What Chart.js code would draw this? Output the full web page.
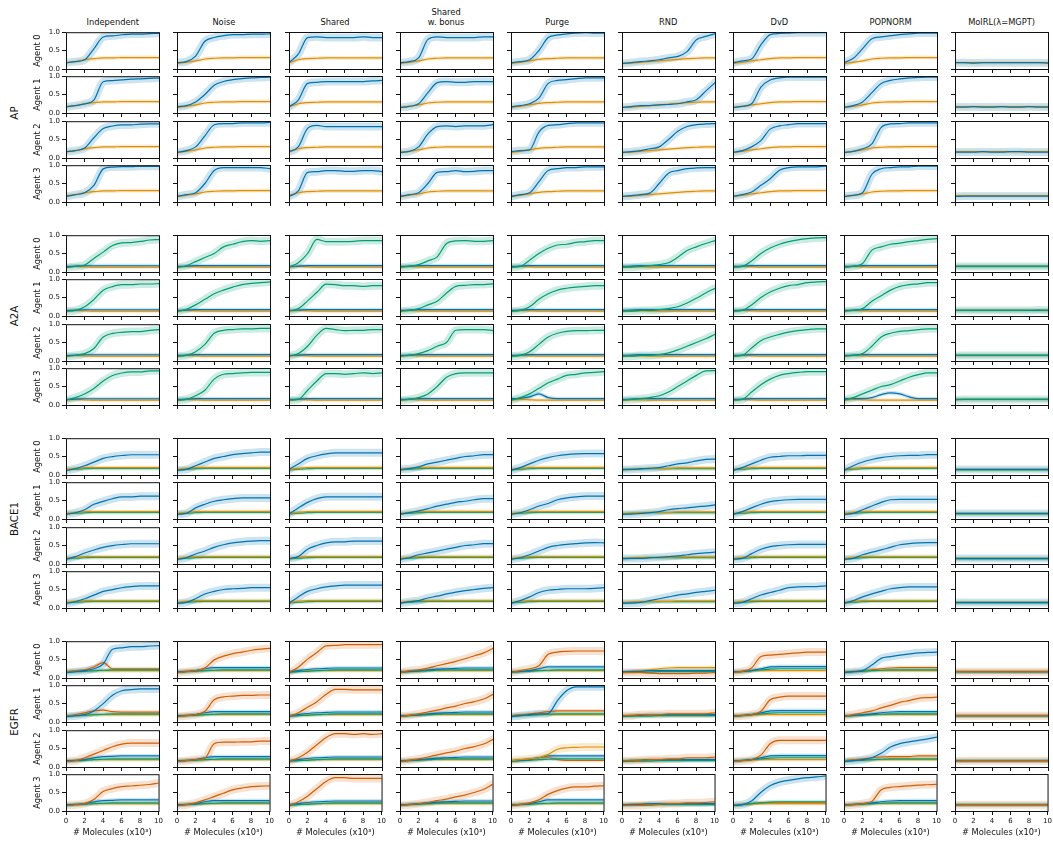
<!DOCTYPE html>
<html>
<head>
<meta charset="utf-8">
<script src="https://cdn.jsdelivr.net/npm/chart.js@4.4.1/dist/chart.umd.min.js"></script>
<style>
    body { margin: 0; background: #fff; }
    #figure { position: relative; width: 1053px; height: 843px; font-family: 'DejaVu Sans', sans-serif; color: #111; }
    #figure canvas { position: absolute; }
    .col-title { position: absolute; font-size: 8.3px; line-height: 10px; text-align: center; transform: translate(-50%, -50%); white-space: nowrap; }
    .group-label { position: absolute; font-size: 10.3px; transform: translate(-50%, -50%) rotate(-90deg); white-space: nowrap; }
</style>
</head>
<body>
<div id="figure"></div>
<script>
// Multi-agent learning curves, one small panel per (target, agent, method)

const METHODS = ['Independent', 'Noise', 'Shared', 'Shared\nw. bonus', 'Purge', 'RND', 'DvD', 'POPNORM', 'MolRL(λ=MGPT)'];
const TARGETS = ['AP', 'A2A', 'BACE1', 'EGFR'];
const AGENTS = ['Agent 0', 'Agent 1', 'Agent 2', 'Agent 3'];
const STEPS = [0, 1, 2, 3, 4, 5, 6, 7, 8, 9, 10]; // # molecules (x10^3)
const X_TICKS = [0, 2, 4, 6, 8, 10];
const Y_TICKS = [0, 0.5, 1.0];
const X_TITLE = '# Molecules (x10³)';

// ---- AP: blue rises, orange flat ----
const AP_MAIN = [
    [[0.17,0.2,0.25,0.55,0.87,0.9,0.93,0.95,0.95,0.96,0.97], [0.17,0.2,0.25,0.35,0.85,0.88,0.9,0.92,0.93,0.94,0.95], [0.17,0.2,0.27,0.55,0.8,0.87,0.9,0.9,0.92,0.93,0.93], [0.15,0.2,0.25,0.45,0.9,0.95,0.96,0.96,0.97,0.97,0.97]],
    [[0.17,0.2,0.35,0.75,0.85,0.9,0.93,0.93,0.94,0.94,0.95], [0.17,0.2,0.3,0.5,0.75,0.85,0.9,0.93,0.95,0.96,0.97], [0.15,0.2,0.3,0.6,0.9,0.93,0.93,0.95,0.95,0.95,0.96], [0.15,0.2,0.25,0.5,0.85,0.93,0.93,0.93,0.93,0.93,0.9]],
    [[0.18,0.4,0.85,0.87,0.85,0.85,0.85,0.85,0.87,0.85,0.85], [0.17,0.35,0.8,0.83,0.85,0.85,0.85,0.85,0.85,0.87,0.88], [0.17,0.3,0.8,0.88,0.85,0.85,0.85,0.85,0.85,0.85,0.85], [0.15,0.3,0.8,0.82,0.85,0.85,0.83,0.83,0.85,0.85,0.82]],
    [[0.17,0.2,0.3,0.8,0.87,0.85,0.85,0.85,0.85,0.87,0.87], [0.15,0.18,0.25,0.55,0.82,0.85,0.83,0.83,0.85,0.85,0.85], [0.15,0.18,0.3,0.65,0.85,0.87,0.85,0.87,0.87,0.87,0.9], [0.15,0.2,0.25,0.5,0.8,0.82,0.85,0.82,0.83,0.85,0.85]],
    [[0.17,0.2,0.25,0.5,0.85,0.92,0.95,0.97,0.98,0.97,0.97], [0.17,0.2,0.25,0.4,0.8,0.88,0.9,0.93,0.95,0.95,0.95], [0.17,0.2,0.22,0.7,0.88,0.9,0.93,0.95,0.95,0.95,0.95], [0.15,0.2,0.25,0.55,0.85,0.9,0.93,0.93,0.95,0.95,0.95]],
    [[0.15,0.17,0.2,0.22,0.25,0.3,0.34,0.47,0.79,0.88,0.95], [0.15,0.17,0.2,0.2,0.22,0.23,0.25,0.3,0.36,0.59,0.82], [0.15,0.17,0.2,0.25,0.3,0.5,0.72,0.85,0.9,0.92,0.93], [0.15,0.17,0.2,0.24,0.5,0.78,0.85,0.9,0.92,0.93,0.93]],
    [[0.17,0.22,0.27,0.65,0.93,0.96,0.97,0.98,0.98,0.98,0.98], [0.15,0.18,0.25,0.7,0.89,0.95,0.97,0.97,0.97,0.97,0.97], [0.15,0.2,0.3,0.47,0.78,0.87,0.9,0.93,0.93,0.93,0.93], [0.15,0.2,0.27,0.45,0.63,0.86,0.93,0.95,0.95,0.95,0.97]],
    [[0.17,0.29,0.55,0.82,0.87,0.9,0.93,0.95,0.97,0.97,0.97], [0.15,0.2,0.3,0.55,0.8,0.88,0.92,0.95,0.96,0.97,0.97], [0.15,0.18,0.25,0.38,0.83,0.92,0.93,0.95,0.95,0.95,0.95], [0.15,0.18,0.25,0.75,0.9,0.93,0.95,0.95,0.97,0.97,0.97]],
    [[0.17,0.17,0.16,0.17,0.17,0.17,0.17,0.17,0.17,0.17,0.16], [0.16,0.16,0.17,0.16,0.16,0.17,0.16,0.16,0.17,0.16,0.16], [0.16,0.16,0.16,0.17,0.16,0.16,0.17,0.17,0.16,0.16,0.16], [0.15,0.16,0.16,0.16,0.16,0.16,0.16,0.16,0.16,0.16,0.16]]
];
const AP_ORANGE = [
    [0.17,0.2,0.25,0.28,0.3,0.3,0.31,0.31,0.31,0.31,0.31],
    [0.15,0.18,0.22,0.27,0.29,0.3,0.3,0.31,0.31,0.31,0.31],
    [0.17,0.25,0.28,0.29,0.3,0.3,0.3,0.3,0.3,0.3,0.3],
    [0.15,0.18,0.22,0.27,0.29,0.3,0.3,0.3,0.3,0.3,0.3],
    [0.15,0.18,0.22,0.26,0.28,0.29,0.3,0.3,0.3,0.3,0.3],
    [0.15,0.16,0.18,0.2,0.22,0.24,0.26,0.28,0.29,0.3,0.3],
    [0.15,0.18,0.22,0.25,0.28,0.3,0.3,0.31,0.31,0.31,0.31],
    [0.15,0.18,0.22,0.27,0.29,0.3,0.3,0.31,0.31,0.31,0.31],
    [0.17,0.17,0.17,0.17,0.17,0.17,0.17,0.17,0.17,0.17,0.17]
];

// ---- A2A: green rises, blue and orange flat ----
const A2A_MAIN = [
    [[0.12,0.15,0.19,0.37,0.54,0.72,0.79,0.8,0.83,0.87,0.88], [0.13,0.15,0.25,0.45,0.7,0.8,0.85,0.85,0.87,0.87,0.88], [0.13,0.15,0.2,0.34,0.65,0.75,0.78,0.8,0.8,0.83,0.85], [0.13,0.2,0.3,0.45,0.65,0.8,0.87,0.9,0.9,0.93,0.93]],
    [[0.12,0.17,0.28,0.39,0.5,0.68,0.75,0.82,0.85,0.83,0.85], [0.12,0.18,0.3,0.45,0.6,0.7,0.78,0.85,0.88,0.9,0.92], [0.13,0.15,0.25,0.45,0.75,0.83,0.85,0.87,0.87,0.88,0.88], [0.13,0.15,0.25,0.4,0.7,0.83,0.85,0.87,0.88,0.88,0.88]],
    [[0.13,0.25,0.5,0.88,0.82,0.82,0.82,0.83,0.85,0.85,0.85], [0.13,0.2,0.41,0.64,0.86,0.85,0.82,0.82,0.8,0.82,0.82], [0.13,0.2,0.4,0.7,0.88,0.85,0.82,0.83,0.83,0.85,0.85], [0.13,0.15,0.4,0.65,0.85,0.85,0.83,0.85,0.87,0.85,0.87]],
    [[0.13,0.15,0.2,0.3,0.41,0.77,0.84,0.85,0.83,0.83,0.85], [0.13,0.15,0.2,0.3,0.4,0.62,0.8,0.83,0.85,0.85,0.87], [0.13,0.15,0.2,0.28,0.4,0.5,0.83,0.85,0.85,0.85,0.82], [0.13,0.15,0.2,0.3,0.5,0.75,0.85,0.87,0.87,0.87,0.87]],
    [[0.13,0.15,0.32,0.5,0.64,0.73,0.75,0.8,0.82,0.85,0.85], [0.13,0.15,0.25,0.45,0.6,0.7,0.75,0.78,0.8,0.82,0.82], [0.13,0.15,0.25,0.45,0.65,0.75,0.8,0.82,0.82,0.83,0.83], [0.13,0.2,0.3,0.45,0.6,0.7,0.8,0.83,0.87,0.88,0.9]],
    [[0.13,0.13,0.15,0.17,0.2,0.25,0.4,0.58,0.68,0.77,0.85], [0.13,0.13,0.15,0.15,0.17,0.2,0.25,0.35,0.48,0.62,0.75], [0.13,0.13,0.15,0.15,0.17,0.22,0.3,0.4,0.5,0.6,0.72], [0.13,0.15,0.17,0.2,0.25,0.35,0.5,0.65,0.8,0.92,0.93]],
    [[0.13,0.15,0.3,0.5,0.65,0.75,0.82,0.87,0.9,0.92,0.93], [0.13,0.15,0.3,0.5,0.65,0.75,0.82,0.85,0.9,0.92,0.93], [0.13,0.15,0.35,0.55,0.65,0.72,0.78,0.82,0.85,0.87,0.87], [0.13,0.15,0.35,0.55,0.7,0.8,0.85,0.88,0.9,0.9,0.9]],
    [[0.13,0.15,0.23,0.59,0.68,0.75,0.78,0.82,0.85,0.88,0.9], [0.13,0.15,0.2,0.4,0.55,0.7,0.8,0.85,0.87,0.9,0.9], [0.13,0.15,0.2,0.4,0.65,0.75,0.8,0.82,0.85,0.87,0.87], [0.13,0.2,0.3,0.4,0.5,0.55,0.65,0.75,0.82,0.87,0.87]],
    [[0.15,0.15,0.15,0.15,0.15,0.15,0.15,0.15,0.15,0.15,0.15], [0.15,0.15,0.15,0.15,0.15,0.15,0.15,0.15,0.15,0.16,0.15], [0.15,0.15,0.15,0.15,0.15,0.15,0.15,0.15,0.15,0.15,0.15], [0.14,0.15,0.15,0.15,0.15,0.15,0.15,0.15,0.15,0.15,0.15]]
];
const A2A_BLUE = [
    [0.15,0.16,0.17,0.17,0.17,0.17,0.17,0.17,0.17,0.17,0.17],
    [0.15,0.16,0.17,0.17,0.17,0.17,0.17,0.17,0.17,0.17,0.17],
    [0.15,0.16,0.17,0.17,0.17,0.17,0.17,0.17,0.17,0.17,0.17],
    [0.15,0.16,0.17,0.17,0.17,0.17,0.17,0.17,0.17,0.17,0.17],
    [0.15,0.16,0.17,0.17,0.17,0.17,0.17,0.17,0.17,0.17,0.17],
    [0.15,0.16,0.17,0.17,0.17,0.17,0.17,0.17,0.17,0.17,0.17],
    [0.15,0.16,0.17,0.17,0.17,0.17,0.17,0.17,0.17,0.17,0.17],
    [0.15,0.16,0.17,0.17,0.17,0.17,0.17,0.17,0.17,0.17,0.17],
    [0.15,0.15,0.15,0.15,0.15,0.15,0.15,0.15,0.15,0.15,0.15]
];
const A2A_ORANGE = [
    [0.13,0.15,0.14,0.13,0.13,0.13,0.13,0.13,0.13,0.13,0.13],
    [0.13,0.15,0.14,0.13,0.13,0.13,0.13,0.13,0.13,0.13,0.13],
    [0.13,0.15,0.14,0.13,0.13,0.13,0.13,0.13,0.13,0.13,0.13],
    [0.13,0.15,0.14,0.13,0.13,0.13,0.13,0.13,0.13,0.13,0.13],
    [0.13,0.15,0.14,0.13,0.13,0.13,0.13,0.13,0.13,0.13,0.13],
    [0.13,0.14,0.14,0.13,0.13,0.13,0.13,0.13,0.13,0.13,0.13],
    [0.13,0.15,0.14,0.13,0.13,0.13,0.13,0.13,0.13,0.13,0.13],
    [0.13,0.15,0.14,0.13,0.13,0.13,0.13,0.13,0.13,0.13,0.13],
    [0.15,0.15,0.15,0.15,0.15,0.15,0.15,0.15,0.15,0.15,0.15]
];

// ---- BACE1: blue rises, orange and green flat ----
const BACE1_MAIN = [
    [[0.12,0.17,0.25,0.35,0.45,0.5,0.53,0.55,0.55,0.55,0.55], [0.13,0.17,0.25,0.4,0.48,0.55,0.6,0.6,0.62,0.62,0.62], [0.13,0.2,0.3,0.38,0.45,0.5,0.53,0.55,0.55,0.55,0.55], [0.13,0.17,0.25,0.35,0.45,0.5,0.55,0.58,0.6,0.6,0.6]],
    [[0.13,0.15,0.25,0.35,0.45,0.5,0.55,0.58,0.6,0.62,0.62], [0.13,0.15,0.3,0.4,0.48,0.52,0.55,0.57,0.57,0.57,0.57], [0.12,0.17,0.27,0.35,0.45,0.52,0.57,0.6,0.62,0.63,0.63], [0.13,0.15,0.25,0.38,0.45,0.5,0.52,0.53,0.55,0.55,0.55]],
    [[0.15,0.3,0.45,0.52,0.57,0.6,0.6,0.6,0.6,0.6,0.6], [0.13,0.3,0.45,0.55,0.6,0.6,0.6,0.6,0.6,0.6,0.6], [0.15,0.2,0.4,0.5,0.57,0.6,0.6,0.62,0.62,0.62,0.62], [0.13,0.3,0.45,0.52,0.57,0.6,0.62,0.62,0.62,0.62,0.62]],
    [[0.15,0.17,0.22,0.3,0.35,0.4,0.45,0.5,0.52,0.55,0.55], [0.13,0.17,0.22,0.28,0.35,0.4,0.45,0.48,0.52,0.55,0.55], [0.13,0.17,0.25,0.3,0.35,0.4,0.45,0.5,0.52,0.55,0.55], [0.13,0.17,0.2,0.27,0.32,0.38,0.43,0.47,0.5,0.53,0.55]],
    [[0.13,0.2,0.3,0.4,0.47,0.52,0.55,0.57,0.58,0.58,0.58], [0.13,0.17,0.25,0.35,0.42,0.52,0.57,0.6,0.62,0.62,0.62], [0.13,0.17,0.25,0.35,0.45,0.5,0.53,0.55,0.57,0.58,0.57], [0.13,0.2,0.3,0.42,0.48,0.5,0.52,0.52,0.52,0.53,0.55]],
    [[0.15,0.15,0.17,0.18,0.2,0.25,0.3,0.33,0.38,0.42,0.43], [0.13,0.13,0.15,0.17,0.2,0.25,0.28,0.3,0.33,0.35,0.38], [0.15,0.15,0.15,0.17,0.18,0.2,0.22,0.25,0.28,0.3,0.32], [0.13,0.13,0.15,0.2,0.25,0.3,0.35,0.38,0.42,0.45,0.48]],
    [[0.13,0.2,0.3,0.4,0.48,0.5,0.52,0.52,0.53,0.53,0.53], [0.13,0.2,0.3,0.4,0.47,0.5,0.52,0.53,0.53,0.53,0.53], [0.13,0.15,0.28,0.4,0.47,0.5,0.52,0.53,0.53,0.53,0.53], [0.13,0.15,0.25,0.35,0.42,0.48,0.55,0.57,0.58,0.58,0.6]],
    [[0.13,0.25,0.35,0.42,0.47,0.5,0.52,0.53,0.53,0.55,0.55], [0.13,0.15,0.25,0.35,0.45,0.52,0.53,0.53,0.53,0.53,0.53], [0.13,0.15,0.25,0.32,0.38,0.45,0.52,0.55,0.57,0.58,0.58], [0.13,0.2,0.3,0.38,0.45,0.52,0.55,0.57,0.57,0.57,0.57]],
    [[0.15,0.15,0.15,0.15,0.15,0.15,0.15,0.15,0.15,0.15,0.15], [0.15,0.15,0.15,0.15,0.15,0.15,0.15,0.15,0.15,0.15,0.15], [0.15,0.15,0.15,0.15,0.15,0.15,0.15,0.15,0.15,0.15,0.15], [0.15,0.15,0.15,0.15,0.15,0.15,0.15,0.15,0.15,0.15,0.15]]
];
const BACE1_ORANGE = [
    [0.15,0.18,0.2,0.2,0.2,0.2,0.2,0.2,0.2,0.2,0.2],
    [0.15,0.18,0.2,0.2,0.2,0.2,0.2,0.2,0.2,0.2,0.2],
    [0.15,0.18,0.2,0.2,0.2,0.2,0.2,0.2,0.2,0.2,0.2],
    [0.15,0.18,0.2,0.2,0.2,0.2,0.2,0.2,0.2,0.2,0.2],
    [0.15,0.18,0.2,0.2,0.2,0.2,0.2,0.2,0.2,0.2,0.2],
    [0.15,0.16,0.17,0.18,0.18,0.18,0.19,0.19,0.19,0.19,0.19],
    [0.15,0.18,0.2,0.2,0.2,0.2,0.2,0.2,0.2,0.2,0.2],
    [0.15,0.18,0.2,0.2,0.2,0.2,0.2,0.2,0.2,0.2,0.2],
    [0.15,0.15,0.15,0.15,0.15,0.15,0.15,0.15,0.15,0.15,0.15]
];
const BACE1_GREEN = [
    [0.14,0.16,0.17,0.18,0.18,0.18,0.18,0.18,0.18,0.18,0.18],
    [0.14,0.16,0.17,0.18,0.18,0.18,0.18,0.18,0.18,0.18,0.18],
    [0.14,0.16,0.17,0.18,0.18,0.18,0.18,0.18,0.18,0.18,0.18],
    [0.14,0.16,0.17,0.18,0.18,0.18,0.18,0.18,0.18,0.18,0.18],
    [0.14,0.16,0.17,0.18,0.18,0.18,0.18,0.18,0.18,0.18,0.18],
    [0.14,0.15,0.16,0.17,0.17,0.17,0.17,0.17,0.17,0.17,0.17],
    [0.14,0.16,0.17,0.18,0.18,0.18,0.18,0.18,0.18,0.18,0.18],
    [0.14,0.16,0.17,0.18,0.18,0.18,0.18,0.18,0.18,0.18,0.18],
    [0.14,0.14,0.14,0.14,0.14,0.14,0.14,0.14,0.14,0.14,0.14]
];

// ---- EGFR: red rises (some panels swap to blue/orange), rest flat ----
const EGFR_MAIN = [
    [[0.15,0.17,0.2,0.25,0.38,0.78,0.82,0.85,0.85,0.87,0.88], [0.15,0.17,0.2,0.3,0.5,0.73,0.85,0.88,0.9,0.9,0.9], [0.15,0.17,0.25,0.35,0.45,0.55,0.62,0.65,0.65,0.65,0.65], [0.15,0.17,0.2,0.31,0.53,0.61,0.66,0.68,0.7,0.72,0.76]],
    [[0.15,0.17,0.2,0.27,0.49,0.59,0.66,0.7,0.75,0.78,0.8], [0.15,0.17,0.2,0.29,0.6,0.68,0.7,0.72,0.72,0.73,0.73], [0.15,0.17,0.2,0.24,0.63,0.67,0.67,0.68,0.68,0.7,0.7], [0.15,0.17,0.22,0.3,0.39,0.48,0.57,0.62,0.66,0.67,0.68]],
    [[0.15,0.29,0.51,0.69,0.87,0.88,0.9,0.9,0.9,0.9,0.9], [0.15,0.25,0.4,0.55,0.75,0.88,0.88,0.87,0.87,0.87,0.87], [0.15,0.25,0.4,0.6,0.8,0.9,0.9,0.88,0.9,0.88,0.9], [0.15,0.25,0.4,0.6,0.8,0.9,0.9,0.88,0.88,0.88,0.88]],
    [[0.15,0.2,0.22,0.27,0.33,0.39,0.45,0.52,0.6,0.68,0.8], [0.15,0.18,0.22,0.27,0.32,0.38,0.43,0.5,0.55,0.62,0.75], [0.15,0.18,0.22,0.27,0.33,0.38,0.43,0.5,0.55,0.62,0.75], [0.15,0.17,0.2,0.23,0.28,0.32,0.38,0.43,0.5,0.58,0.72]],
    [[0.15,0.2,0.25,0.33,0.64,0.7,0.72,0.73,0.73,0.73,0.73], [0.15,0.17,0.2,0.22,0.23,0.58,0.85,0.95,0.95,0.95,0.95], [0.17,0.2,0.22,0.25,0.34,0.48,0.52,0.53,0.54,0.54,0.54], [0.15,0.18,0.22,0.3,0.45,0.55,0.62,0.65,0.65,0.67,0.68]],
    [[0.15,0.15,0.15,0.13,0.12,0.12,0.12,0.12,0.13,0.13,0.15], [0.17,0.17,0.2,0.2,0.2,0.22,0.22,0.22,0.22,0.22,0.25], [0.17,0.17,0.18,0.2,0.2,0.22,0.22,0.25,0.25,0.25,0.27], [0.15,0.15,0.15,0.17,0.18,0.2,0.2,0.22,0.22,0.23,0.25]],
    [[0.15,0.18,0.27,0.58,0.62,0.64,0.66,0.68,0.7,0.7,0.7], [0.15,0.17,0.2,0.29,0.6,0.67,0.7,0.7,0.7,0.7,0.7], [0.15,0.17,0.2,0.32,0.63,0.72,0.72,0.72,0.72,0.72,0.72], [0.15,0.17,0.27,0.5,0.68,0.78,0.83,0.87,0.9,0.92,0.95]],
    [[0.15,0.17,0.2,0.35,0.53,0.58,0.62,0.65,0.68,0.69,0.7], [0.15,0.2,0.25,0.3,0.38,0.45,0.53,0.58,0.64,0.66,0.67], [0.15,0.17,0.2,0.25,0.37,0.54,0.63,0.68,0.72,0.76,0.81], [0.15,0.17,0.2,0.26,0.57,0.64,0.66,0.68,0.7,0.71,0.72]],
    [[0.17,0.17,0.17,0.17,0.17,0.17,0.17,0.17,0.17,0.17,0.17], [0.17,0.17,0.17,0.17,0.17,0.17,0.17,0.17,0.17,0.17,0.17], [0.16,0.17,0.17,0.17,0.17,0.17,0.17,0.17,0.17,0.17,0.17], [0.16,0.17,0.17,0.17,0.17,0.17,0.17,0.17,0.17,0.17,0.17]]
];
const EGFR_BLUE = [
    [0.17,0.18,0.2,0.25,0.28,0.29,0.3,0.3,0.3,0.3,0.3],
    [0.17,0.18,0.2,0.25,0.28,0.28,0.28,0.28,0.28,0.28,0.28],
    [0.17,0.2,0.23,0.25,0.26,0.27,0.27,0.27,0.27,0.27,0.27],
    [0.17,0.18,0.2,0.22,0.24,0.25,0.26,0.27,0.27,0.27,0.27],
    [0.17,0.18,0.2,0.25,0.3,0.3,0.3,0.3,0.3,0.3,0.3],
    [0.17,0.18,0.18,0.2,0.2,0.2,0.2,0.2,0.2,0.2,0.2],
    [0.17,0.18,0.2,0.25,0.3,0.31,0.31,0.31,0.31,0.31,0.31],
    [0.17,0.18,0.2,0.22,0.25,0.27,0.28,0.28,0.28,0.28,0.28],
    [0.17,0.17,0.17,0.17,0.17,0.17,0.17,0.17,0.17,0.17,0.17]
];
const EGFR_GREEN = [
    [0.15,0.17,0.18,0.2,0.21,0.22,0.22,0.22,0.22,0.22,0.22],
    [0.15,0.17,0.18,0.2,0.21,0.22,0.22,0.22,0.22,0.22,0.22],
    [0.15,0.17,0.18,0.2,0.21,0.22,0.22,0.22,0.22,0.22,0.22],
    [0.15,0.17,0.18,0.2,0.21,0.22,0.22,0.22,0.22,0.22,0.22],
    [0.15,0.17,0.18,0.2,0.21,0.22,0.22,0.22,0.22,0.22,0.22],
    [0.15,0.15,0.16,0.16,0.17,0.17,0.17,0.17,0.17,0.17,0.17],
    [0.15,0.17,0.2,0.22,0.24,0.25,0.25,0.25,0.25,0.25,0.25],
    [0.15,0.17,0.18,0.2,0.21,0.22,0.22,0.22,0.22,0.22,0.22],
    [0.17,0.17,0.17,0.17,0.17,0.17,0.17,0.17,0.17,0.17,0.17]
];
const EGFR_ORANGE = [
    [0.17,0.18,0.19,0.2,0.2,0.2,0.2,0.2,0.2,0.2,0.2],
    [0.17,0.18,0.19,0.2,0.2,0.2,0.2,0.2,0.2,0.2,0.2],
    [0.17,0.18,0.19,0.2,0.2,0.2,0.2,0.2,0.2,0.2,0.2],
    [0.17,0.18,0.19,0.2,0.2,0.2,0.2,0.2,0.2,0.2,0.2],
    [0.17,0.18,0.19,0.2,0.2,0.2,0.2,0.2,0.2,0.2,0.2],
    [0.17,0.18,0.2,0.2,0.2,0.2,0.2,0.2,0.2,0.2,0.2],
    [0.17,0.18,0.19,0.2,0.2,0.2,0.2,0.2,0.2,0.2,0.2],
    [0.17,0.18,0.19,0.2,0.2,0.2,0.2,0.2,0.2,0.2,0.2],
    [0.17,0.17,0.17,0.17,0.17,0.17,0.17,0.17,0.17,0.17,0.17]
];

// panels where the rising curve is not the usual colour: [target, method, agent, colour]
const MAIN_SWAPS = [
    ['EGFR', 0, 0, 'blue'], ['EGFR', 0, 1, 'blue'],
    ['EGFR', 4, 1, 'blue'], ['EGFR', 4, 2, 'orange'],
    ['EGFR', 6, 3, 'blue'],
    ['EGFR', 7, 0, 'blue'], ['EGFR', 7, 2, 'blue']
];
// secondary curves that are not flat: [target, method, agent, colour, values]
const SIDE_CURVES = [
    ['A2A', 4, 3, 'blue', [0.17,0.18,0.22,0.3,0.2,0.17,0.17,0.17,0.17,0.17,0.17]],
    ['A2A', 7, 3, 'blue', [0.17,0.17,0.17,0.2,0.28,0.33,0.3,0.22,0.17,0.17,0.17]],
    ['EGFR', 0, 0, 'red', [0.17,0.2,0.22,0.3,0.42,0.25,0.25,0.25,0.25,0.25,0.25]],
    ['EGFR', 0, 1, 'red', [0.15,0.2,0.25,0.3,0.32,0.28,0.27,0.27,0.27,0.27,0.27]],
    ['EGFR', 4, 1, 'red', [0.17,0.2,0.22,0.25,0.28,0.3,0.3,0.3,0.3,0.3,0.3]],
    ['EGFR', 4, 2, 'red', [0.17,0.2,0.22,0.25,0.25,0.2,0.18,0.18,0.18,0.18,0.18]],
    ['EGFR', 5, 0, 'orange', [0.15,0.17,0.2,0.22,0.25,0.27,0.28,0.28,0.28,0.28,0.28]],
    ['EGFR', 6, 3, 'red', [0.15,0.17,0.2,0.22,0.22,0.22,0.22,0.22,0.22,0.22,0.22]],
    ['EGFR', 7, 0, 'red', [0.15,0.17,0.2,0.22,0.25,0.27,0.28,0.28,0.28,0.28,0.28]],
    ['EGFR', 7, 2, 'red', [0.17,0.2,0.22,0.25,0.27,0.28,0.28,0.28,0.3,0.3,0.3]]
];

const MAIN = { AP: AP_MAIN, A2A: A2A_MAIN, BACE1: BACE1_MAIN, EGFR: EGFR_MAIN };
const MAIN_COLOR = { AP: 'blue', A2A: 'green', BACE1: 'blue', EGFR: 'red' };
const FLATS = {
    AP: { orange: AP_ORANGE },
    A2A: { blue: A2A_BLUE, orange: A2A_ORANGE },
    BACE1: { orange: BACE1_ORANGE, green: BACE1_GREEN },
    EGFR: { blue: EGFR_BLUE, green: EGFR_GREEN, orange: EGFR_ORANGE }
};

const COLORS = { blue: '#0173b2', orange: '#de8f05', green: '#029e73', red: '#d55e00' };
const BAND = { blue: 'rgba(1,115,178,0.2)', orange: 'rgba(222,143,5,0.18)', green: 'rgba(2,158,115,0.2)', red: 'rgba(213,94,0,0.18)' };

// layout of the grid (pixels)
const PANEL_W = 93, PANEL_H = 37;
const COL_X0 = 66.3, COL_STEP = 111.1;
const ROW_Y0 = 31.7, ROW_STEP = 44.4, GROUP_STEP = 203;
const YW = 44, TOPP = 6, RP = 6, XH = 30;
const FONT = 'DejaVu Sans';
const INK = '#111';

// Draw the closed box around each panel (matplotlib spines)
const framePlugin = {
    id: 'frame',
    afterDraw(chart) {
        const { ctx, chartArea: { left, top, right, bottom } } = chart;
        ctx.save();
        ctx.strokeStyle = INK;
        ctx.lineWidth = 1;
        ctx.strokeRect(left + 0.5, top + 0.5, right - left, bottom - top);
        ctx.restore();
    }
};

function toPoints(values) {
    return STEPS.map((x, i) => ({ x: x, y: values[i] }));
}

function panelSeries(target, m, a) {
    const series = {};
    const flats = FLATS[target];
    for (const color of Object.keys(flats)) {
        series[color] = flats[color][m];
    }
    let mainColor = MAIN_COLOR[target];
    MAIN_SWAPS.forEach(s => {
        if (s[0] === target && s[1] === m && s[2] === a) mainColor = s[3];
    });
    SIDE_CURVES.forEach(s => {
        if (s[0] === target && s[1] === m && s[2] === a) series[s[3]] = s[4];
    });
    series[mainColor] = MAIN[target][m][a];
    return { series, mainColor };
}

function buildDatasets(target, m, a) {
    const { series, mainColor } = panelSeries(target, m, a);
    const datasets = [];
    for (const [color, values] of Object.entries(series)) {
        const isMain = color === mainColor;
        // shaded spread drawn as a wide pale stroke under the mean curve
        datasets.push({
            data: toPoints(values),
            borderColor: BAND[color],
            borderWidth: isMain ? 8 : 4,
            order: 3
        });
        datasets.push({
            data: toPoints(values),
            borderColor: COLORS[color],
            borderWidth: 1.2,
            order: isMain ? 0 : 1
        });
    }
    return datasets;
}

function makePanel(fig, g, a, m) {
    const pl = Math.round(COL_X0 + COL_STEP * m);
    const pt = Math.round(ROW_Y0 + ROW_STEP * a + GROUP_STEP * g);
    const isBottom = g === TARGETS.length - 1 && a === AGENTS.length - 1;
    const isLeft = m === 0;

    const canvas = document.createElement('canvas');
    canvas.width = YW + PANEL_W + RP;
    canvas.height = TOPP + PANEL_H + XH;
    canvas.style.left = (pl - YW) + 'px';
    canvas.style.top = (pt - TOPP) + 'px';
    fig.appendChild(canvas);

    const tickGrid = {
        drawOnChartArea: false,
        drawTicks: true,
        tickLength: 4,
        tickWidth: 1,
        tickColor: INK
    };

    new Chart(canvas.getContext('2d'), {
        type: 'line',
        data: { datasets: buildDatasets(TARGETS[g], m, a) },
        options: {
            responsive: false,
            animation: false,
            events: [],
            layout: { padding: { left: 0, top: TOPP, right: RP, bottom: 0 } },
            plugins: { legend: { display: false }, tooltip: { enabled: false } },
            elements: {
                point: { radius: 0 },
                line: { cubicInterpolationMode: 'monotone', borderJoinStyle: 'round', borderCapStyle: 'round' }
            },
            scales: {
                x: {
                    type: 'linear',
                    min: 0,
                    max: 10,
                    afterBuildTicks: s => { s.ticks = X_TICKS.map(v => ({ value: v })); },
                    afterFit: s => { s.height = XH; },
                    grid: tickGrid,
                    border: { display: false },
                    ticks: {
                        display: isBottom,
                        autoSkip: false,
                        maxRotation: 0,
                        padding: 2,
                        color: INK,
                        font: { family: FONT, size: 7 }
                    },
                    title: {
                        display: isBottom,
                        text: X_TITLE,
                        color: INK,
                        font: { family: FONT, size: 8.3 },
                        padding: { top: 0, bottom: 3 }
                    }
                },
                y: {
                    type: 'linear',
                    min: 0,
                    max: 1,
                    afterBuildTicks: s => { s.ticks = Y_TICKS.map(v => ({ value: v })); },
                    afterFit: s => { s.width = YW; },
                    grid: tickGrid,
                    border: { display: false },
                    ticks: {
                        display: isLeft,
                        autoSkip: false,
                        padding: 2,
                        color: INK,
                        font: { family: FONT, size: 7 },
                        callback: v => v.toFixed(1)
                    },
                    title: {
                        display: isLeft,
                        text: AGENTS[a],
                        color: INK,
                        font: { family: FONT, size: 8.3 },
                        padding: { top: 11, bottom: 0 }
                    }
                }
            }
        },
        plugins: [framePlugin]
    });
}

function addLabels(fig) {
    METHODS.forEach((name, m) => {
        const el = document.createElement('div');
        el.className = 'col-title';
        const lines = name.split('\n');
        el.innerHTML = lines.join('<br>');
        el.style.left = (COL_X0 + COL_STEP * m + PANEL_W / 2) + 'px';
        el.style.top = (lines.length > 1 ? 17 : 22) + 'px';
        fig.appendChild(el);
    });
    TARGETS.forEach((name, g) => {
        const el = document.createElement('div');
        el.className = 'group-label';
        el.textContent = name;
        const top = ROW_Y0 + GROUP_STEP * g;
        const bottom = top + ROW_STEP * 3 + PANEL_H;
        el.style.left = '14px';
        el.style.top = ((top + bottom) / 2 - 4) + 'px';
        fig.appendChild(el);
    });
}

function init() {
    const fig = document.getElementById('figure');
    addLabels(fig);
    for (let g = 0; g < TARGETS.length; g++) {
        for (let a = 0; a < AGENTS.length; a++) {
            for (let m = 0; m < METHODS.length; m++) {
                makePanel(fig, g, a, m);
            }
        }
    }
}

init();
</script>
</body>
</html>
